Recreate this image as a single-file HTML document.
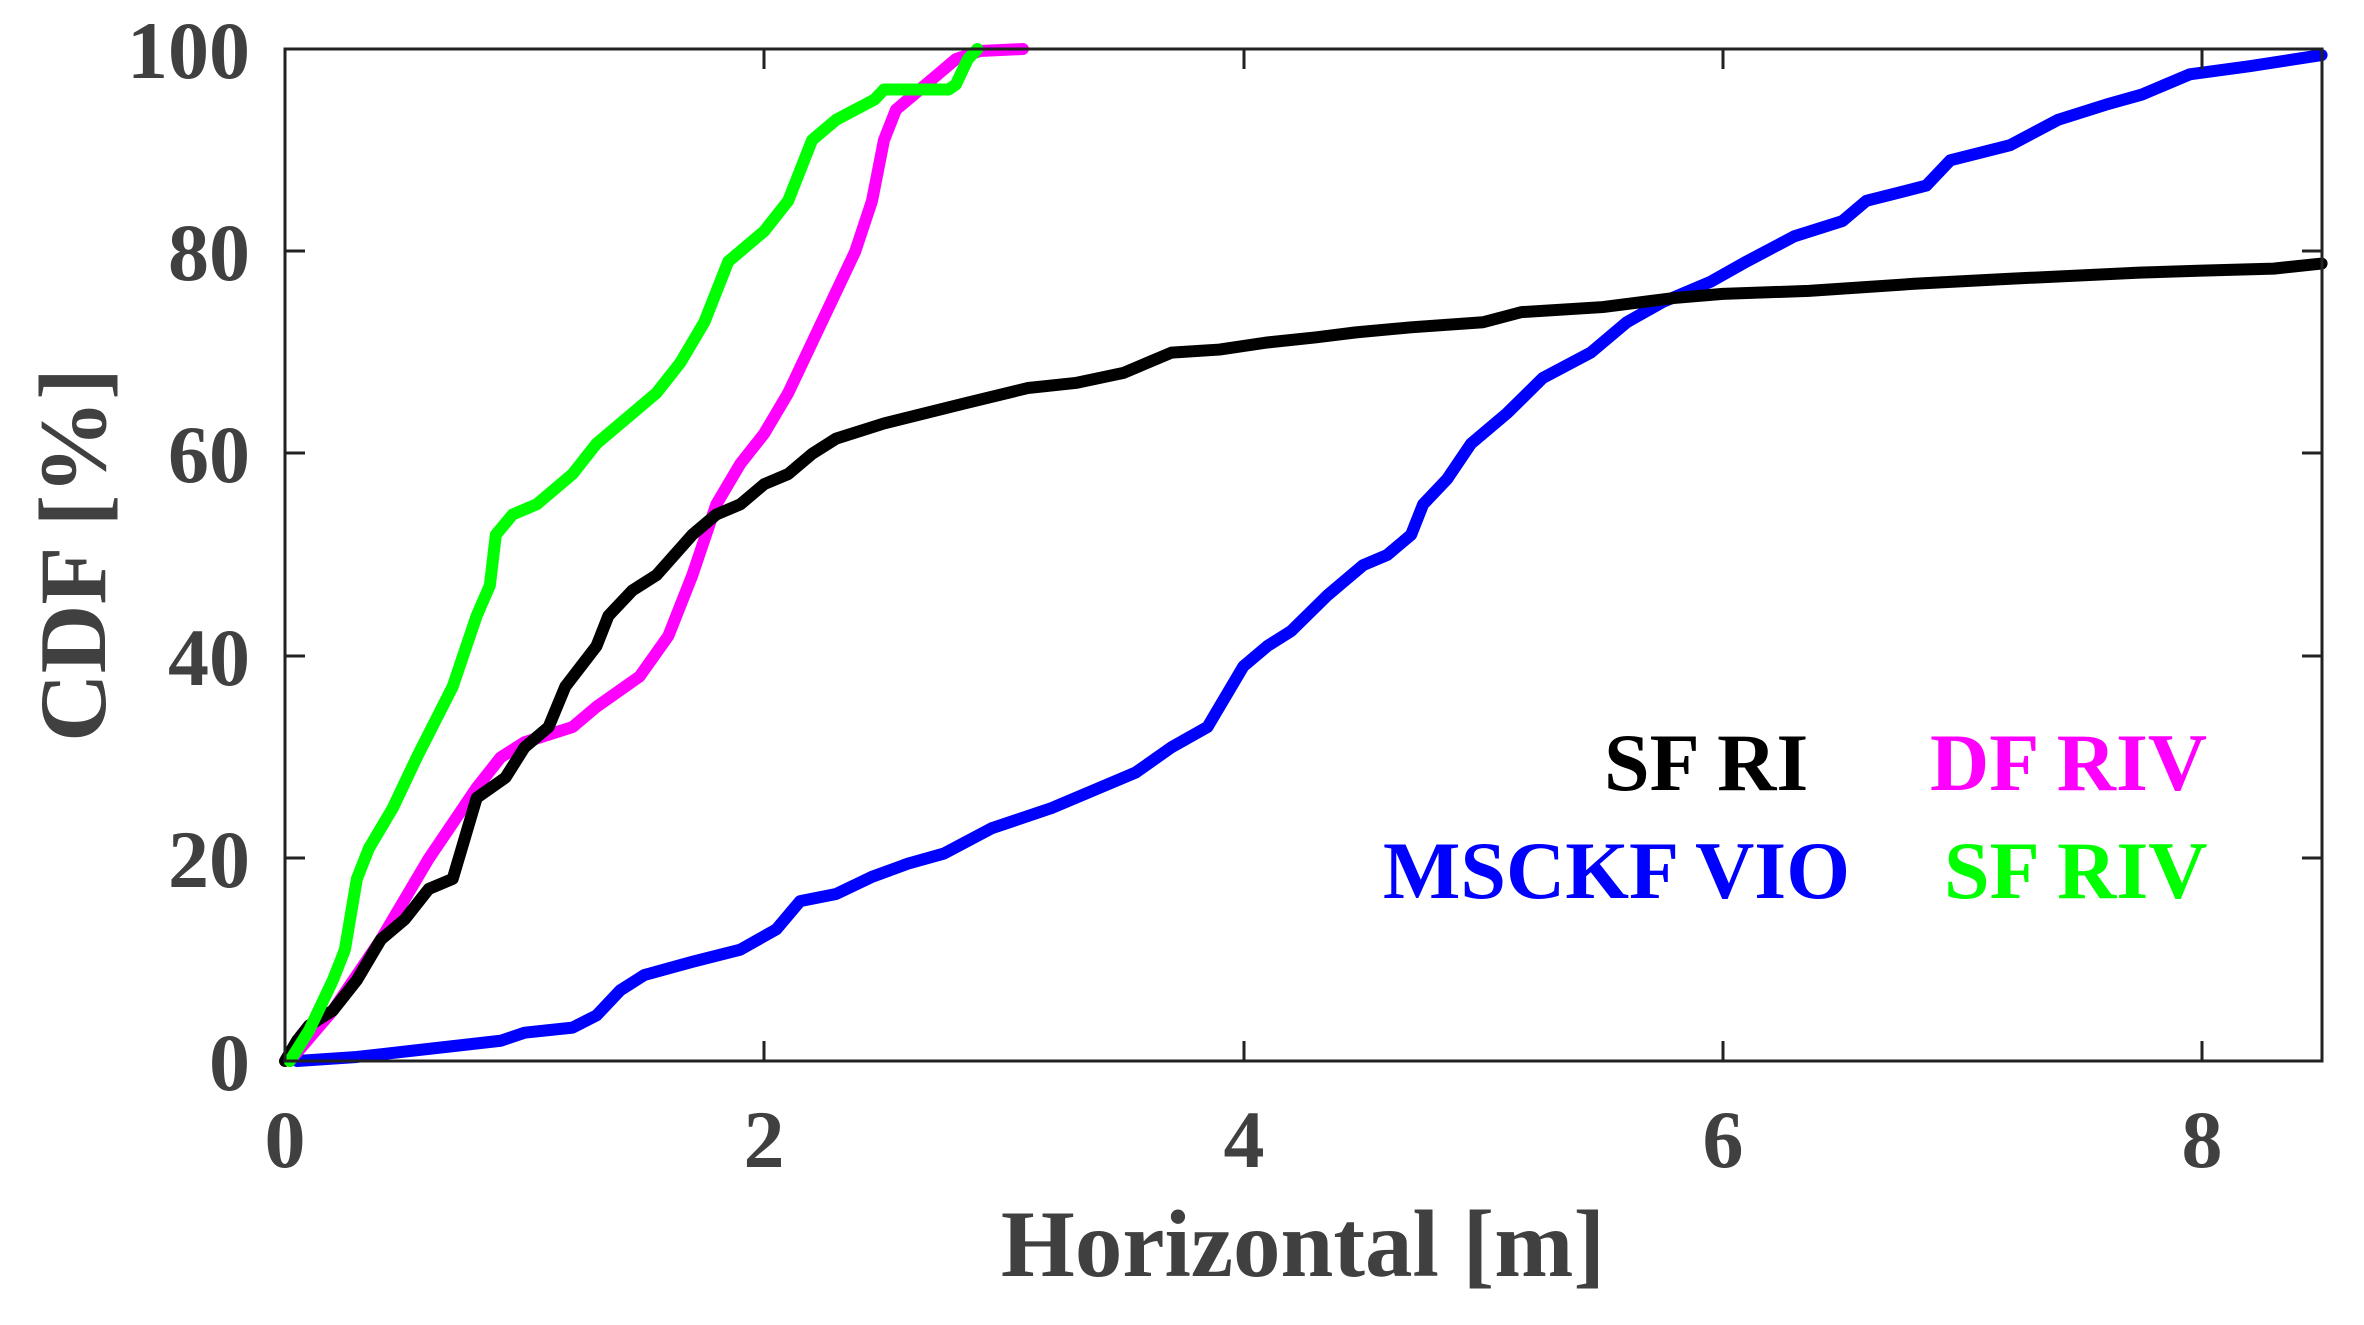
<!DOCTYPE html>
<html><head><meta charset="utf-8"><style>
html,body{margin:0;padding:0;background:#fff;}
svg{display:block;}
text{font-family:"Liberation Serif","Times New Roman",serif;font-weight:bold;}
</style></head><body>
<svg width="2364" height="1325" viewBox="0 0 2364 1325" xmlns="http://www.w3.org/2000/svg">
<rect width="2364" height="1325" fill="#fff"/>
<g transform="translate(285,1061) scale(239.6,-10.12)" fill="none" stroke-linejoin="round" stroke-linecap="round">
<polyline vector-effect="non-scaling-stroke" stroke="#0000ff" stroke-width="12" points="0.05,0 0.3,0.4 0.6,1.2 0.9,2 1.0,2.8 1.2,3.3 1.3,4.5 1.4,7 1.5,8.5 1.7,9.8 1.9,11 2.05,13 2.15,15.8 2.3,16.5 2.45,18.2 2.6,19.5 2.75,20.5 2.95,23 3.2,25 3.4,27 3.55,28.5 3.7,31 3.85,33 4.0,39 4.1,41 4.2,42.5 4.35,46 4.5,49 4.6,50 4.7,52 4.75,55 4.85,57.5 4.95,61 5.1,64 5.25,67.5 5.45,70 5.6,73 5.75,75 5.95,77 6.1,79 6.3,81.5 6.5,83 6.6,85 6.85,86.5 6.95,89 7.2,90.5 7.4,93 7.6,94.5 7.75,95.5 7.95,97.5 8.2,98.3 8.5,99.4"/>
<polyline vector-effect="non-scaling-stroke" stroke="#ff00ff" stroke-width="12" points="0.02,0 0.2,5 0.4,12 0.6,20 0.8,27 0.9,30 1.0,31.5 1.2,33 1.3,35 1.48,38 1.6,42 1.7,48 1.8,55 1.9,59 2.0,62 2.1,66 2.2,71 2.3,76 2.38,80 2.45,85 2.5,91 2.55,94 2.65,96 2.8,99 2.9,99.8 3.08,100"/>
<polyline vector-effect="non-scaling-stroke" stroke="#000000" stroke-width="12" points="0,0 0.05,2 0.1,3.5 0.2,5 0.3,8 0.4,12 0.5,14 0.6,17 0.7,18 0.75,22 0.8,26 0.92,28 1.0,31 1.1,33 1.17,37 1.3,41 1.35,44 1.45,46.5 1.55,48 1.7,52 1.8,54 1.9,55 2.0,57 2.1,58 2.2,60 2.3,61.5 2.5,63 2.84,65 3.1,66.5 3.3,67 3.5,68 3.7,70 3.9,70.3 4.1,71 4.3,71.5 4.47,72 4.7,72.5 5.0,73 5.16,74 5.5,74.5 5.8,75.4 6.0,75.8 6.36,76.1 6.8,76.8 7.2,77.3 7.74,77.9 8.0,78.1 8.3,78.3 8.5,78.8"/>
<polyline vector-effect="non-scaling-stroke" stroke="#00ff00" stroke-width="12" points="0.02,0 0.1,3 0.2,8 0.25,11 0.3,18 0.35,21 0.45,25 0.55,30 0.7,37 0.8,44 0.855,47 0.88,52 0.95,54 1.05,55 1.2,58 1.3,61 1.45,64 1.55,66 1.65,69 1.75,73 1.85,79 2.0,82 2.1,85 2.2,91 2.3,93 2.46,95 2.5,96 2.77,96 2.8,96.5 2.85,99 2.89,100"/>
</g>
<g stroke="#222" stroke-width="3" fill="none">
<rect x="285" y="49" width="2037" height="1012"/>
<path d="M285,251h20M285,453h20M285,656h20M285,858h20M2322,251h-20M2322,453h-20M2322,656h-20M2322,858h-20M764,1061v-20M1244,1061v-20M1723,1061v-20M2202,1061v-20M764,49v20M1244,49v20M1723,49v20M2202,49v20"/>
</g>
<g fill="#404040" font-size="82" text-anchor="end">
<text x="250" y="78">100</text>
<text x="250" y="280">80</text>
<text x="250" y="482">60</text>
<text x="250" y="685">40</text>
<text x="250" y="887">20</text>
<text x="250" y="1090">0</text>
</g>
<g fill="#404040" font-size="82" text-anchor="middle">
<text x="285" y="1167">0</text>
<text x="764" y="1167">2</text>
<text x="1244" y="1167">4</text>
<text x="1723" y="1167">6</text>
<text x="2202" y="1167">8</text>
</g>
<text x="1303" y="1276" fill="#404040" font-size="95" text-anchor="middle">Horizontal [m]</text>
<text transform="translate(105,555) rotate(-90)" fill="#404040" font-size="95" text-anchor="middle">CDF [%]</text>
<g font-size="82">
<text x="1604" y="790" fill="#000">SF RI</text>
<text x="1930" y="790" fill="#ff00ff">DF RIV</text>
<text x="1383" y="898" fill="#0000ff">MSCKF VIO</text>
<text x="1944" y="898" fill="#00ff00">SF RIV</text>
</g>
</svg>
</body></html>
